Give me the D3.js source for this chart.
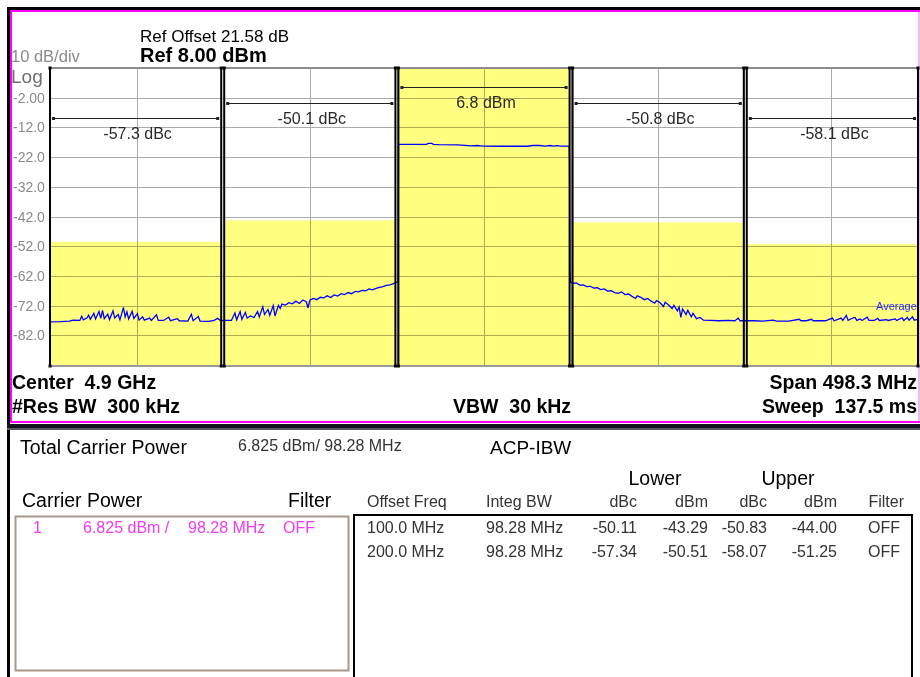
<!DOCTYPE html>
<html>
<head>
<meta charset="utf-8">
<script src="https://cdn.jsdelivr.net/npm/d3@7"></script>
<style>
body { margin: 0; background: #fff; }
svg { display: block; font-family: "Liberation Sans", Arial, sans-serif; }
text { white-space: pre; }
</style>
</head>
<body>
<svg id="chart" width="920" height="677"></svg>
<script>
// instrument settings
var spanMHz = 498.3;
var refLevel = 8;
var dbPerDiv = 10;
var nDiv = 10;
var yTickLabels = ["-2.00", "-12.0", "-22.0", "-32.0", "-42.0", "-52.0", "-62.0", "-72.0", "-82.0"];

// channels (offset from center, MHz)
var chanOffsets = [-200, -100, 0, 100, 200];
var integBW = 98.28;
var chanPower = [-50.51, -43.29, 6.825, -44.00, -51.25];
var chanLabels = ["-57.3 dBc", "-50.1 dBc", "6.8 dBm", "-50.8 dBc", "-58.1 dBc"];

// trace: [offset MHz, dBm]
var trace = [
  [-249.1,-77.5],[-243,-77.4],[-238,-77.2],[-236,-76.9],[-232,-77.0],[-231,-75.6],[-230,-76.8],[-228,-76.2],
  [-227,-75.2],[-226,-76.6],[-224,-74.6],[-223,-76.5],[-221,-74.0],[-220,-76.3],[-219,-73.6],[-218,-76.4],
  [-216,-74.9],[-215,-76.7],[-213,-73.8],[-212,-76.2],[-210,-75.0],[-209,-76.8],[-207,-72.6],[-206,-75.8],
  [-205,-74.1],[-204,-76.5],[-202,-73.9],[-201,-76.3],[-199,-74.7],[-198,-76.9],[-196,-75.8],[-195,-76.9],
  [-192,-76.2],[-191,-77.0],[-188,-75.1],[-187,-77.0],[-184,-77.0],[-181,-75.9],[-180,-77.1],[-176,-76.4],
  [-175,-77.1],[-170,-77.2],[-168,-74.9],[-167,-77.1],[-164,-75.7],[-163,-77.2],[-158,-77.3],[-155,-77.0],
  [-153,-76.3],[-151,-77.1],
  [-149,-77.0],[-145,-77.0],[-143,-74.5],[-142,-76.8],[-140,-74.0],[-139,-76.6],[-137,-74.3],[-136,-76.2],
  [-134,-75.5],[-132,-76.0],[-130,-74.0],[-129,-75.8],[-127,-72.4],[-126,-75.0],[-124,-73.3],[-123,-75.3],
  [-121,-72.0],[-120,-75.5],[-118,-71.9],[-117,-73.0],[-116,-71.5],[-114,-71.8],[-112,-71.0],[-110,-71.4],
  [-108,-70.5],[-106,-71.3],[-104,-70.1],[-102,-70.7],[-101,-72.8],[-100,-70.2],[-98,-69.6],[-96,-70.0],
  [-94,-69.2],[-92,-69.4],[-90,-68.7],[-88,-69.3],[-86,-68.4],[-84,-68.8],[-82,-68.0],[-80,-68.3],
  [-78,-67.6],[-76,-68.0],[-74,-67.2],[-72,-67.4],[-70,-66.9],[-68,-67.0],[-66,-66.4],[-64,-66.7],
  [-62,-66.2],[-60,-65.9],[-58,-65.6],[-56,-65.2],[-54,-65.0],[-52,-64.6],[-50,-64.1],[-49.3,-64.0],
  [-49.1,-17.7],[-45,-17.7],[-33,-17.7],[-32,-17.4],[-30,-17.4],[-29,-17.7],[-26,-17.8],[-15,-17.9],
  [-7,-18.2],[-4,-18.1],[-2,-18.2],[0,-18.3],[10,-18.35],[25,-18.35],[28,-18.1],[32,-18.1],[35,-18.3],
  [38,-18.1],[40,-18.3],[42,-18.15],[44,-18.3],[47,-18.3],[48.9,-18.4],[49.1,-24.0],
  [49.3,-59.5],[49.6,-64.0],[51,-64.5],[53,-64.4],[55,-65.1],[57,-65.0],[59,-65.6],[61,-65.5],[63,-66.1],
  [65,-66.0],[67,-66.6],[69,-66.4],[71,-67.1],[73,-67.0],[75,-67.6],[77,-67.9],[79,-67.4],[81,-68.3],
  [83,-68.1],[85,-68.9],[87,-69.6],[88,-68.7],[90,-69.2],[92,-70.0],[94,-69.6],[96,-70.5],[98,-71.2],
  [99,-70.3],[101,-71.0],[103,-72.3],[104,-70.9],[106,-71.8],[108,-73.0],[109,-71.9],[111,-73.8],
  [112,-72.5],[113,-76.0],[114,-73.1],[116,-75.0],[117,-73.6],[119,-75.8],[120,-74.6],[122,-76.4],
  [124,-76.0],[126,-76.9],[130,-77.0],[135,-77.1],[140,-77.0],[144,-77.1],[146,-76.2],[147,-77.1],
  [152,-77.1],[155,-77.1],[160,-77.2],[166,-76.9],[168,-77.2],[175,-77.2],[181,-76.6],[182,-77.1],
  [185,-77.1],[188,-76.6],[189,-77.1],[196,-77.1],[200,-76.2],[201,-77.1],[205,-76.2],[206,-77.0],
  [208,-75.3],[209,-77.0],[212,-76.1],[213,-76.0],[214,-77.0],[216,-76.5],[217,-77.0],[220,-75.9],
  [221,-77.0],[224,-77.0],[226,-76.3],[227,-77.0],[231,-76.7],[232,-77.0],[236,-76.5],[237,-77.0],
  [240,-76.1],[241,-77.0],[243,-76.0],[244,-76.9],[246,-75.8],[247,-76.9],[249.1,-76.6]
];

// result table
var offsetFreqs = ["100.0 MHz", "200.0 MHz"];
var integBWs = ["98.28 MHz", "98.28 MHz"];
var lowerDbc = ["-50.11", "-57.34"];
var lowerDbm = ["-43.29", "-50.51"];
var upperDbc = ["-50.83", "-58.07"];
var upperDbm = ["-44.00", "-51.25"];
var filters = ["OFF", "OFF"];

var svg = d3.select("#chart");

var x = d3.scaleLinear()
    .domain([-spanMHz / 2, spanMHz / 2])
    .range([50, 918]);
var y = d3.scaleLinear()
    .domain([refLevel - dbPerDiv * nDiv, refLevel])
    .range([365, 68]);

// frame around the screen
svg.append("rect").attr("x", 7).attr("y", 7).attr("width", 913).attr("height", 3).attr("fill", "#000");
svg.append("rect").attr("x", 7).attr("y", 7).attr("width", 3).attr("height", 670).attr("fill", "#000");
svg.append("rect").attr("x", 10).attr("y", 10).attr("width", 910).attr("height", 2).attr("fill", "#ff00ff");
svg.append("rect").attr("x", 10).attr("y", 10).attr("width", 2).attr("height", 413).attr("fill", "#ff00ff");
svg.append("rect").attr("x", 10).attr("y", 421).attr("width", 910).attr("height", 2).attr("fill", "#ff00ff");
svg.append("rect").attr("x", 918).attr("y", 12).attr("width", 2).attr("height", 409).attr("fill", "#f2b8f2");
svg.append("rect").attr("x", 7).attr("y", 424).attr("width", 913).attr("height", 4).attr("fill", "#14141e");
svg.append("rect").attr("x", 7).attr("y", 428).attr("width", 913).attr("height", 2).attr("fill", "#5a5a66");

// yellow channel areas
svg.append("g").selectAll("rect")
    .data(chanOffsets)
    .enter()
    .append("rect")
    .attr("x", function(d) { return x(d - integBW / 2); })
    .attr("width", function(d) { return x(d + integBW / 2) - x(d - integBW / 2); })
    .attr("y", function(d, i) { return d === 0 ? y(refLevel) : y(chanPower[i]); })
    .attr("height", function(d, i) { return y.range()[0] - (d === 0 ? y(refLevel) : y(chanPower[i])); })
    .attr("fill", "#ffff80");

// graticule
var vgrid = d3.range(nDiv + 1).map(function(i) { return -spanMHz / 2 + i * spanMHz / nDiv; });
var hgrid = d3.range(nDiv + 1).map(function(i) { return refLevel - i * dbPerDiv; });
var grid = svg.append("g").style("mix-blend-mode", "multiply");
grid.selectAll(".vg")
    .data(vgrid)
    .enter()
    .append("line")
    .attr("x1", function(d) { return Math.round(x(d)) + 0.5; })
    .attr("x2", function(d) { return Math.round(x(d)) + 0.5; })
    .attr("y1", y(refLevel))
    .attr("y2", y.range()[0])
    .attr("stroke", "#acacac");
grid.selectAll(".hg")
    .data(hgrid)
    .enter()
    .append("line")
    .attr("x1", x.range()[0])
    .attr("x2", x.range()[1])
    .attr("y1", function(d) { return Math.round(y(d)) + 0.5; })
    .attr("y2", function(d) { return Math.round(y(d)) + 0.5; })
    .attr("stroke", "#acacac");
svg.append("line")
    .attr("x1", x.range()[0]).attr("x2", x.range()[1])
    .attr("y1", y(refLevel)).attr("y2", y(refLevel))
    .attr("stroke", "#8c8c8c").attr("stroke-width", 2);
svg.append("line")
    .attr("x1", x.range()[0]).attr("x2", x.range()[1])
    .attr("y1", y.range()[0] + 1).attr("y2", y.range()[0] + 1)
    .attr("stroke", "#9a9a9a").attr("stroke-width", 2);

// y labels
svg.append("g").selectAll("text")
    .data(yTickLabels)
    .enter()
    .append("text")
    .attr("x", 13)
    .attr("y", function(d, i) { return y(hgrid[i + 1]); })
    .attr("dy", "0.36em")
    .attr("font-size", 14)
    .attr("fill", "#8a8a8a")
    .text(function(d) { return d; });

svg.append("text").attr("x", 11).attr("y", 62).attr("font-size", 16.5).attr("fill", "#8a8a8a").text("10 dB/div");
svg.append("text").attr("x", 11).attr("y", 83).attr("font-size", 19).attr("fill", "#6e6e6e").text("Log");
svg.append("text").attr("x", 140).attr("y", 42).attr("font-size", 17).attr("fill", "#000").text("Ref Offset 21.58 dB");
svg.append("text").attr("x", 140).attr("y", 62).attr("font-size", 20).attr("font-weight", "bold").attr("fill", "#000").text("Ref 8.00 dBm");

// trace
var line = d3.line()
    .x(function(d) { return x(d[0]); })
    .y(function(d) { return y(d[1]); });
svg.append("path")
    .datum(trace)
    .attr("d", line)
    .attr("fill", "none")
    .attr("stroke", "#0000ff")
    .attr("stroke-width", 1.3);

svg.append("text").attr("x", 876).attr("y", 310).attr("font-size", 11).attr("fill", "#2a2aff").text("Average");

// channel edges
var edges = [];
chanOffsets.forEach(function(d) { edges.push(d - integBW / 2, d + integBW / 2); });
var edgeG = svg.append("g");
edgeG.selectAll("line")
    .data(edges)
    .enter()
    .append("line")
    .attr("x1", function(d) { return x(d); })
    .attr("x2", function(d) { return x(d); })
    .attr("y1", y(refLevel))
    .attr("y2", y.range()[0] + 1)
    .attr("stroke", "#000")
    .attr("stroke-width", 2);
edges.forEach(function(d) {
    [y(refLevel), y.range()[0] + 1].forEach(function(yy) {
        edgeG.append("rect").attr("x", x(d) - 1.5).attr("y", yy - 1.5).attr("width", 3).attr("height", 3).attr("fill", "#000");
    });
});

// channel bandwidth markers and results: main highest, outer lowest
var tierY = function(d) {
    var t = Math.abs(d) / 100;
    return y(refLevel) + [19, 35, 50][t];
};
var mk = svg.append("g").selectAll("g")
    .data(chanOffsets)
    .enter()
    .append("g");
mk.append("line")
    .attr("x1", function(d) { return x(d - integBW / 2) + 3; })
    .attr("x2", function(d) { return x(d + integBW / 2) - 3; })
    .attr("y1", function(d) { return tierY(d) + 0.5; })
    .attr("y2", function(d) { return tierY(d) + 0.5; })
    .attr("stroke", "#222");
mk.append("rect")
    .attr("x", function(d) { return x(d - integBW / 2) + 2; })
    .attr("y", function(d) { return tierY(d) - 1; })
    .attr("width", 3).attr("height", 3).attr("fill", "#222");
mk.append("rect")
    .attr("x", function(d) { return x(d + integBW / 2) - 5; })
    .attr("y", function(d) { return tierY(d) - 1; })
    .attr("width", 3).attr("height", 3).attr("fill", "#222");
mk.append("text")
    .attr("x", function(d) { return x(d) + 2; })
    .attr("y", function(d) { return tierY(d) + 21; })
    .attr("text-anchor", "middle")
    .attr("font-size", 16)
    .attr("fill", "#2a2a2a")
    .text(function(d, i) { return chanLabels[i]; });

// settings below the graph
var info = svg.append("g").attr("font-size", 19.5).attr("font-weight", "bold").attr("fill", "#000");
info.append("text").attr("x", 12).attr("y", 389).text("Center  4.9 GHz");
info.append("text").attr("x", 12).attr("y", 413).text("#Res BW  300 kHz");
info.append("text").attr("x", 453).attr("y", 413).text("VBW  30 kHz");
info.append("text").attr("x", 917).attr("y", 389).attr("text-anchor", "end").text("Span 498.3 MHz");
info.append("text").attr("x", 917).attr("y", 413).attr("text-anchor", "end").text("Sweep  137.5 ms");

// result panel
var res = svg.append("g");
res.append("text").attr("x", 20).attr("y", 454).attr("font-size", 19.5).attr("fill", "#000").text("Total Carrier Power");
res.append("text").attr("x", 238).attr("y", 451).attr("font-size", 16).attr("fill", "#333").text("6.825 dBm/ 98.28 MHz");
res.append("text").attr("x", 490).attr("y", 454).attr("font-size", 19).attr("fill", "#000").text("ACP-IBW");
res.append("text").attr("x", 22).attr("y", 507).attr("font-size", 19.5).attr("fill", "#000").text("Carrier Power");
res.append("text").attr("x", 288).attr("y", 507).attr("font-size", 19.5).attr("fill", "#000").text("Filter");
res.append("text").attr("x", 655).attr("y", 485).attr("font-size", 19.5).attr("text-anchor", "middle").attr("fill", "#000").text("Lower");
res.append("text").attr("x", 788).attr("y", 485).attr("font-size", 19.5).attr("text-anchor", "middle").attr("fill", "#000").text("Upper");

res.append("rect").attr("x", 15.5).attr("y", 516.5).attr("width", 333).attr("height", 154)
    .attr("fill", "none").attr("stroke", "#a8978a").attr("stroke-width", 2);
res.append("rect").attr("x", 354).attr("y", 515).attr("width", 558).attr("height", 200)
    .attr("fill", "none").attr("stroke", "#000").attr("stroke-width", 2);

var carrierRow = [["1", 33], ["6.825 dBm /", 83], ["98.28 MHz", 188], ["OFF", 283]];
res.append("g").selectAll("text")
    .data(carrierRow)
    .enter()
    .append("text")
    .attr("x", function(d) { return d[1]; })
    .attr("y", 533)
    .attr("font-size", 16)
    .attr("fill", "#f03cf0")
    .text(function(d) { return d[0]; });

// table columns: [header, values, x, anchor]
var cols = [
    ["Offset Freq", offsetFreqs, 367, "start"],
    ["Integ BW", integBWs, 486, "start"],
    ["dBc", lowerDbc, 637, "end"],
    ["dBm", lowerDbm, 708, "end"],
    ["dBc", upperDbc, 767, "end"],
    ["dBm", upperDbm, 837, "end"],
    ["Filter", filters, 904, "end"]
];
cols.forEach(function(c) {
    res.append("text").attr("x", c[2]).attr("y", 507).attr("font-size", 16)
        .attr("text-anchor", c[3]).attr("fill", "#333").text(c[0]);
    c[1].forEach(function(v, i) {
        res.append("text")
            .attr("x", c[0] === "Filter" ? 868 : c[2])
            .attr("y", 533 + i * 24)
            .attr("font-size", 16)
            .attr("text-anchor", c[0] === "Filter" ? "start" : c[3])
            .attr("fill", "#333")
            .text(v);
    });
});
</script>
</body>
</html>
